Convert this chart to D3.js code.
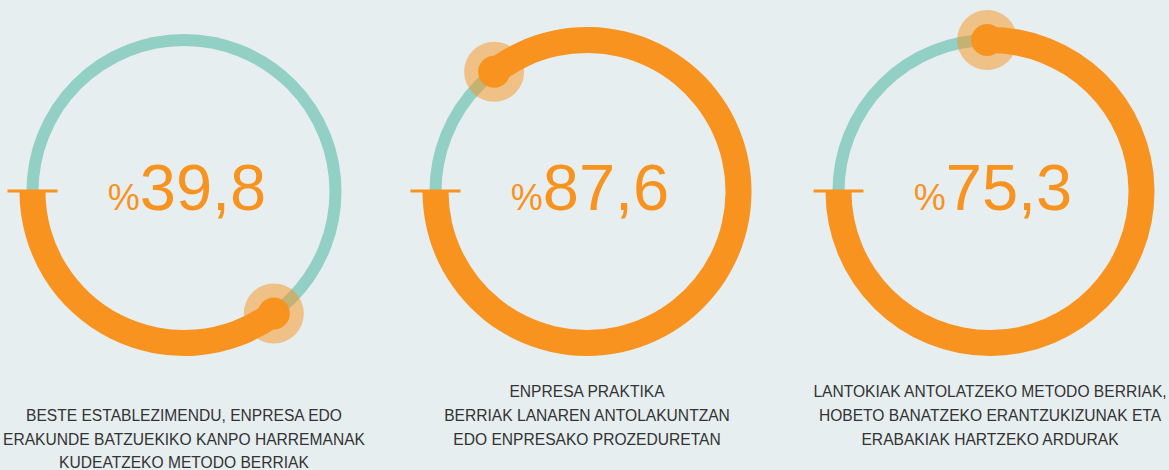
<!DOCTYPE html>
<html lang="eu">
<head>
<meta charset="UTF-8">
<title>Berrikuntza antolakuntzan</title>
<style>
  body {
    margin: 0;
    background-color: #e6eef0;
  }
  svg {
    display: block;
  }
  .pct {
    fill: #f7931e;
    font-family: "Liberation Sans", Arial, sans-serif;
  }
  .label {
    fill: #333;
    font-family: "Liberation Sans", Arial, sans-serif;
    font-size: 15.6px;
  }
</style>
</head>
<body>
<div class="vizHolder"></div>
<script src="https://cdnjs.cloudflare.com/ajax/libs/d3/7.8.5/d3.min.js"></script>
<script>
// values printed in the centre of each ring
var shown = ["39,8", "87,6", "75,3"];
// how far each orange arc actually runs round the ring (%)
var drawn = [35.1, 85.5, 75.3];
// caption lines under each ring (first ring starts one line lower)
var captions = [
  ["", "BESTE ESTABLEZIMENDU, ENPRESA EDO", "ERAKUNDE BATZUEKIKO KANPO HARREMANAK", "KUDEATZEKO METODO BERRIAK"],
  ["ENPRESA PRAKTIKA", "BERRIAK LANAREN ANTOLAKUNTZAN", "EDO ENPRESAKO PROZEDURETAN"],
  ["LANTOKIAK ANTOLATZEKO METODO BERRIAK,", "HOBETO BANATZEKO ERANTZUKIZUNAK ETA", "ERABAKIAK HARTZEKO ARDURAK"]
];

var width = 1169, height = 470;
var cy = 191.5, r = 151.5;

var svg = d3.select('.vizHolder').
append('svg').
attr('width', width).
attr('height', height);

var xScale = d3.scaleLinear().
domain([0, 2]).
range([184, 990]);

// 0 % sits at 9 o'clock, the arc runs down and round (anticlockwise on screen)
var angle = d3.scaleLinear().
domain([0, 100]).
range([-Math.PI / 2, -Math.PI / 2 - 2 * Math.PI]);

var arc = d3.arc().
innerRadius(r - 13).
outerRadius(r + 13).
startAngle(angle(0));

var rings = svg.selectAll('.ring').
data(drawn).
enter().append('g').
attr('class', 'ring').
attr('transform', function (d, i) {
  return 'translate(' + xScale(i) + ',' + cy + ')';
});

// teal track
rings.append('circle').
attr('r', r).
style('fill', 'none').
style('stroke', '#92cfc5').
style('stroke-width', 12);

// orange value arc
rings.append('path').
attr('d', function (d) {
  return arc.endAngle(angle(d))();
}).
style('fill', '#f7931e');

// zero tick
rings.append('line').
attr('x1', -r - 25).
attr('x2', -r + 25).
attr('y1', -0.5).
attr('y2', -0.5).
style('stroke', '#f7931e').
style('stroke-width', 3);

function endX(d) {
  return r * Math.sin(angle(d));
}
function endY(d) {
  return -r * Math.cos(angle(d));
}

// halo + dot at the end of the arc
rings.append('circle').
attr('cx', endX).
attr('cy', endY).
attr('r', 30).
style('fill', '#f7931e').
style('opacity', 0.5);

rings.append('circle').
attr('cx', endX).
attr('cy', endY).
attr('r', 16).
style('fill', '#f7931e');

// centre figure
var pct = rings.append('text').
attr('class', 'pct').
attr('x', 3).
attr('y', 18.5).
attr('text-anchor', 'middle');

pct.append('tspan').
style('font-size', '36px').
text('%');

pct.append('tspan').
style('font-size', '65px').
text(function (d, i) {
  return shown[i];
});

// captions
svg.selectAll('.caption').
data(captions).
enter().append('text').
attr('class', 'label').
attr('text-anchor', 'middle').
attr('transform', function (d, i) {
  return 'translate(' + xScale(i) + ',397.3)';
}).
selectAll('tspan').
data(function (d) {
  return d;
}).
enter().append('tspan').
attr('x', 0).
attr('y', function (d, i) {
  return i * 23.7;
}).
text(function (d) {
  return d;
});
</script>
</body>
</html>
